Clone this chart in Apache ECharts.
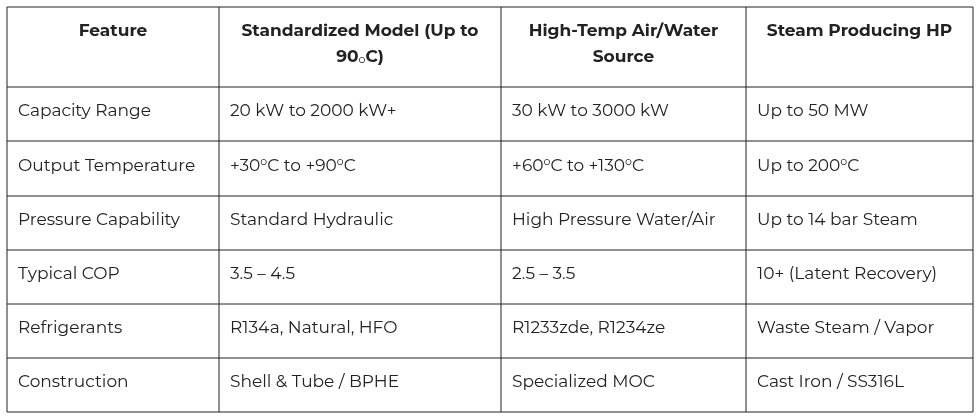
<!DOCTYPE html>
<html>
<head>
<meta charset="utf-8">
<script src="https://cdn.jsdelivr.net/npm/echarts@6/dist/echarts.min.js"></script>
<style>html,body{margin:0;padding:0;background:#fff}#main{width:976px;height:420px}</style>
</head>
<body>
<div id="main"></div>
<script>
// table content ({sup|o} / {sub|o} = small degree marks)
var headers = ['Feature', 'Standardized Model (Up to\n90{sub|o}C)', 'High-Temp Air/Water\nSource', 'Steam Producing HP'];
var features = ['Capacity Range', 'Output Temperature', 'Pressure Capability', 'Typical COP', 'Refrigerants', 'Construction'];
var standardModel = ['20 kW to 2000 kW+', '+30{sup|o}C to +90{sup|o}C', 'Standard Hydraulic', '3.5 – 4.5', 'R134a, Natural, HFO', 'Shell & Tube / BPHE'];
var highTemp = ['30 kW to 3000 kW', '+60{sup|o}C to +130{sup|o}C', 'High Pressure Water/Air', '2.5 – 3.5', 'R1233zde, R1234ze', 'Specialized MOC'];
var steamHP = ['Up to 50 MW', 'Up to 200{sup|o}C', 'Up to 14 bar Steam', '10+ (Latent Recovery)', 'Waste Steam / Vapor', 'Cast Iron / SS316L'];

var colX = [7, 219, 501, 746, 973];
var rowY = [7, 87, 141, 196, 250, 304, 358, 412];
var font = 'Montserrat, "Open Sans", sans-serif';
var rich = {
  sup: {fontSize: 11, verticalAlign: 'top', padding: [0, 0, 8, 0], fontFamily: font, fill: '#222'},
  sub: {fontSize: 11, padding: [6, 0, 0, 0], fontFamily: font, fill: '#222'}
};

var els = [];
var columns = [features, standardModel, highTemp, steamHP];
headers.forEach(function (h, c) {
  els.push({type: 'text', x: (colX[c] + colX[c + 1]) / 2, y: rowY[0] + 11,
    style: {text: h, textAlign: 'center', textVerticalAlign: 'top', fontFamily: font,
      fontWeight: 'bold', fontSize: 17, lineHeight: 26, fill: '#222', rich: rich}});
});
columns.forEach(function (col, c) {
  col.forEach(function (t, r) {
    els.push({type: 'text', x: colX[c] + 11, y: (rowY[r + 1] + rowY[r + 2]) / 2 - 3,
      style: {text: t, textAlign: 'left', textVerticalAlign: 'middle', fontFamily: font,
        fontSize: 17, fill: '#222', rich: rich}});
  });
});
rowY.forEach(function (y) {
  els.push({type: 'line', shape: {x1: colX[0], y1: y, x2: colX[4], y2: y}, style: {stroke: '#222', lineWidth: 1}});
});
colX.forEach(function (x) {
  els.push({type: 'line', shape: {x1: x, y1: rowY[0], x2: x, y2: rowY[7]}, style: {stroke: '#222', lineWidth: 1}});
});

var chart = echarts.init(document.getElementById('main'));
chart.setOption({graphic: {elements: els}});
</script>
</body>
</html>
